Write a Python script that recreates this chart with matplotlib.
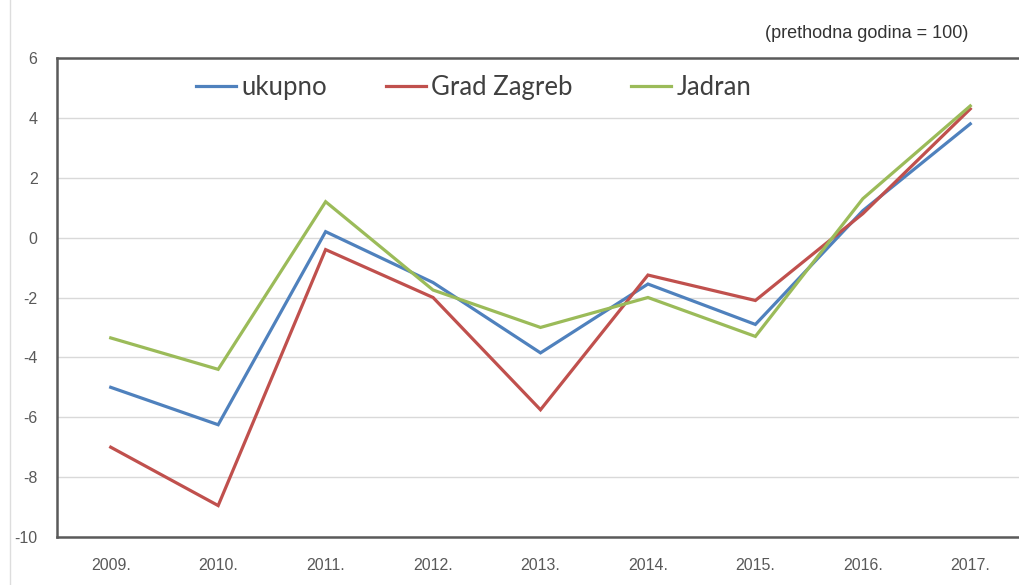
import matplotlib
matplotlib.use("Agg")
import matplotlib.pyplot as plt
from matplotlib.lines import Line2D

# data
years = ["2009.", "2010.", "2011.", "2012.", "2013.", "2014.", "2015.", "2016.", "2017."]
ukupno = [-5.0, -6.25, 0.2, -1.5, -3.85, -1.55, -2.9, 0.9, 3.8]
grad_zagreb = [-7.0, -8.95, -0.4, -2.0, -5.75, -1.25, -2.1, 0.8, 4.3]
jadran = [-3.35, -4.4, 1.2, -1.75, -3.0, -2.0, -3.3, 1.3, 4.4]
series_names = ["ukupno", "Grad Zagreb", "Jadran"]

colors = ["#4F81BD", "#C0504D", "#9BBB59"]

plt.rcParams["axes.unicode_minus"] = False
plt.rcParams["font.family"] = ["Liberation Sans", "DejaVu Sans"]

fig = plt.figure(figsize=(10.19, 5.85), dpi=100)
ax = fig.add_axes([57 / 1019, 48 / 585, 967 / 1019, 479 / 585])

x = list(range(len(years)))
for vals, name, c in zip([ukupno, grad_zagreb, jadran], series_names, colors):
    ax.plot(x, vals, color=c, linewidth=2.3, label=name, solid_joinstyle="miter")

ax.set_xlim(-0.5, len(years) - 0.5)
ax.set_ylim(-10, 6)
ax.set_yticks(range(-10, 7, 2))
ax.set_xticks(x)
ax.set_xticklabels(years)
ax.yaxis.grid(True, color="#d9d9d9", linewidth=1.0)
ax.set_axisbelow(True)

ax.tick_params(axis="both", length=0, labelsize=11.5, labelcolor="#595959")
ax.tick_params(axis="y", pad=14)
ax.tick_params(axis="x", pad=15)

for side in ["left", "top", "bottom"]:
    ax.spines[side].set_color("#5a5a5a")
    ax.spines[side].set_linewidth(1.8)
ax.spines["right"].set_visible(False)

leg = ax.legend(loc="upper left", bbox_to_anchor=(0.12, 1.013), ncol=3,
                frameon=False, handlelength=1.55, handletextpad=0.2,
                columnspacing=2.3, prop={"family": ["Lato", "DejaVu Sans"], "size": 18.5})
for t in leg.get_texts():
    t.set_color("#404040")

fig.text(765 / 1019, 1 - 33 / 585, "(prethodna godina = 100)", fontsize=13,
         color="#333333", va="center", ha="left")

# thin frame line on the left edge of the picture
fig.add_artist(Line2D([10 / 1019, 10 / 1019], [0, 1], color="#dddddd",
                      linewidth=1, transform=fig.transFigure))

fig.savefig("out.png", dpi=100, facecolor="white")
